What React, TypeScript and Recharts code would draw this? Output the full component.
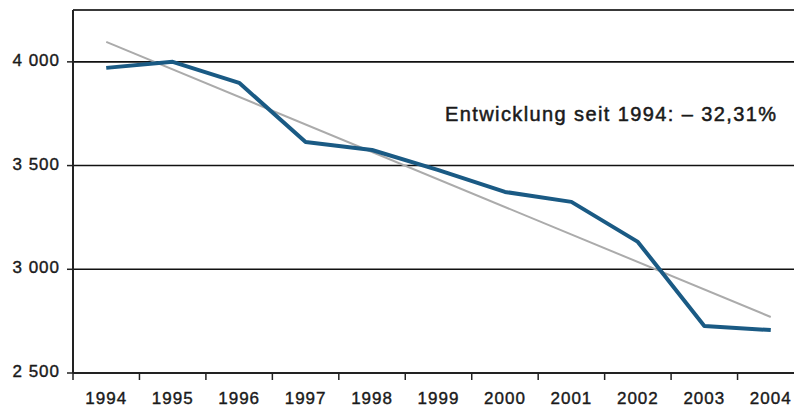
import { CartesianGrid, Line, LineChart, ReferenceLine, XAxis, YAxis } from 'recharts'

const years = ['1994', '1995', '1996', '1997', '1998', '1999', '2000', '2001', '2002', '2003', '2004']
const values = [3971, 4000, 3899, 3614, 3575, 3478, 3373, 3325, 3132, 2727, 2707]
// linear trend, only its two end points are given
const trend = [4096, null, null, null, null, null, null, null, null, null, 2770]
const yTicks = [2500, 3000, 3500, 4000]
const yTop = 4250
const note = 'Entwicklung seit 1994: – 32,31%'

const W = 804
const H = 408
const AXIS_W = 73
const band = (W - AXIS_W) / years.length
const font = '"Liberation Sans", Arial, sans-serif'
const ink = '#1a1a1a'

const data = years.map((year, i) => ({ year, value: values[i], trend: trend[i] }))

const fmt = (v: number) => String(v).replace(/(\d)(?=(\d{3})+$)/, '$1 ')

function YearTick({ x, y, payload }: any) {
  return (
    <g>
      <line x1={x - band / 2} x2={x - band / 2} y1={y} y2={y + 7} stroke="#222" strokeWidth={1.5} />
      <text
        x={x}
        y={y + 31}
        textAnchor="middle"
        fontSize={17}
        fill={ink}
        stroke={ink}
        strokeWidth={0.4}
        fontFamily={font}
        letterSpacing={1}
      >
        {payload.value}
      </text>
    </g>
  )
}

export default function App() {
  return (
    <div style={{ position: 'fixed', left: 0, top: 0, width: 794, height: 408, overflow: 'hidden', background: '#fff' }}>
      <LineChart width={W} height={H} data={data} margin={{ top: 10, right: 0, bottom: 0, left: 0 }}>
        <CartesianGrid vertical={false} stroke="#111" strokeWidth={1.6} />
        <ReferenceLine y={yTop} stroke="#333" strokeWidth={1.5} />
        <XAxis
          dataKey="year"
          height={35}
          padding={{ left: band / 2, right: band / 2 }}
          tickSize={0}
          tickMargin={0}
          tickLine={false}
          axisLine={{ stroke: '#222', strokeWidth: 2 }}
          tick={<YearTick />}
          interval={0}
        />
        <YAxis
          width={AXIS_W}
          domain={[2500, yTop]}
          ticks={yTicks}
          tickFormatter={fmt}
          tickSize={6}
          tickMargin={7}
          axisLine={{ stroke: '#222', strokeWidth: 2 }}
          tickLine={{ stroke: '#222', strokeWidth: 1.5 }}
          tick={{ fontSize: 17, fill: ink, stroke: ink, strokeWidth: 0.4, fontFamily: font, letterSpacing: 1, dy: -2 }}
        />
        <Line dataKey="trend" connectNulls stroke="#ababab" strokeWidth={2} dot={false} isAnimationActive={false} />
        <Line dataKey="value" stroke="#1a5a84" strokeWidth={4} strokeLinejoin="round" dot={false} isAnimationActive={false} />
      </LineChart>
      <div
        style={{
          position: 'absolute',
          left: 445,
          top: 104,
          fontFamily: font,
          fontSize: 20,
          lineHeight: '20px',
          letterSpacing: 1.4,
          color: ink,
          WebkitTextStroke: `0.5px ${ink}`,
          whiteSpace: 'nowrap',
        }}
      >
        {note}
      </div>
    </div>
  )
}
